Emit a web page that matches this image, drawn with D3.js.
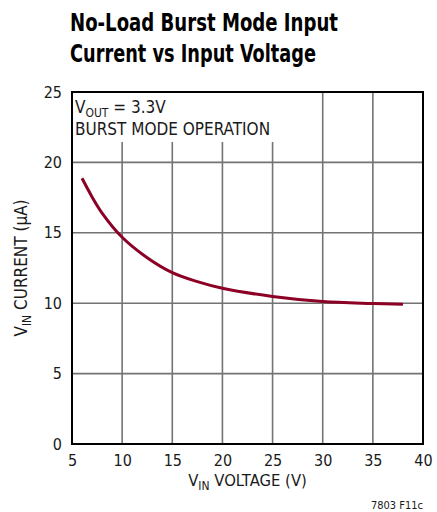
<!DOCTYPE html>
<html>
<head>
<meta charset="utf-8">
<script src="https://cdn.jsdelivr.net/npm/d3@7"></script>
<style>
  html, body { margin: 0; padding: 0; background: #fff; }
  svg { display: block; }
  text { font-family: "Liberation Sans Narrow", "DejaVu Sans Condensed", "Arial Narrow", sans-serif; fill: #1a1a1a; }
</style>
</head>
<body>
<svg id="chart" width="437" height="512"></svg>
<script>
// Input voltage (V) and no-load Burst Mode input current (µA)
const vin = [6, 7, 8, 10, 12.5, 15, 17.5, 20, 25, 30, 35, 38];
const current = [18.87, 17.55, 16.4, 14.68, 13.23, 12.17, 11.53, 11.06, 10.48, 10.12, 9.98, 9.92];

const xTicks = [5, 10, 15, 20, 25, 30, 35, 40];
const yTicks = [0, 5, 10, 15, 20, 25];
const titleLines = ["No-Load Burst Mode Input", "Current vs Input Voltage"];
const titleWidths = [268, 246];

const svg = d3.select("#chart");
const margin = { left: 72, right: 14, top: 92, bottom: 68 };
const W = 437, H = 512;

const x = d3.scaleLinear().domain([5, 40]).range([margin.left, W - margin.right]);
const y = d3.scaleLinear().domain([0, 25]).range([H - margin.bottom, margin.top]);

// Title (condensed bold)
svg.selectAll("text.title").data(titleLines).join("text")
  .attr("class", "title")
  .attr("x", 70)
  .attr("y", (d, i) => 31 + i * 31)
  .attr("font-size", 24)
  .attr("font-weight", "bold")
  .attr("textLength", (d, i) => titleWidths[i])
  .attr("lengthAdjust", "spacingAndGlyphs")
  .style("fill", "#000")
  .text(d => d);

// Grid: horizontal lines across the full plot width
const grid = svg.append("g").attr("stroke", "#737373").attr("stroke-width", 1.6);
grid.selectAll("line.h").data(yTicks.slice(1, -1)).join("line")
  .attr("class", "h")
  .attr("x1", x(5)).attr("x2", x(40))
  .attr("y1", d => y(d)).attr("y2", d => y(d));

// Vertical lines stop below the annotation block on the left side
const noteBottom = 142;
grid.selectAll("line.v").data(xTicks.slice(1, -1)).join("line")
  .attr("class", "v")
  .attr("x1", d => x(d)).attr("x2", d => x(d))
  .attr("y1", d => d <= 25 ? noteBottom : y(25))
  .attr("y2", y(0));

// Frame
svg.append("rect")
  .attr("x", x(5)).attr("y", y(25))
  .attr("width", x(40) - x(5)).attr("height", y(0) - y(25))
  .attr("fill", "none").attr("stroke", "#000").attr("stroke-width", 2);

// Axes (labels only, no tick marks)
const xAxis = svg.append("g")
  .attr("transform", `translate(0,${y(0)})`)
  .call(d3.axisBottom(x).tickValues(xTicks).tickSize(0).tickPadding(11).tickFormat(d3.format("d")));
xAxis.select(".domain").remove();
xAxis.selectAll("text").attr("font-size", 16).attr("font-family", null).attr("dy", "0.71em");

const yAxis = svg.append("g")
  .attr("transform", `translate(${x(5)},0)`)
  .call(d3.axisLeft(y).tickValues(yTicks).tickSize(0).tickPadding(10).tickFormat(d3.format("d")));
yAxis.select(".domain").remove();
yAxis.selectAll("text").attr("font-size", 16).attr("font-family", null);

// Curve
const line = d3.line()
  .x((d, i) => x(vin[i]))
  .y(d => y(d))
  .curve(d3.curveCatmullRom.alpha(0.5));
svg.append("path")
  .datum(current)
  .attr("d", line)
  .attr("fill", "none")
  .attr("stroke", "#8c0026")
  .attr("stroke-width", 3)
  .attr("stroke-linecap", "butt");

// Annotation
const note = svg.append("g").attr("font-size", 17);
const n1 = note.append("text").attr("x", 75).attr("y", 113);
n1.append("tspan").text("V");
n1.append("tspan").attr("font-size", 12).attr("dy", 4).text("OUT");
n1.append("tspan").attr("dy", -4).text(" = 3.3V");
note.append("text").attr("x", 75).attr("y", 135).text("BURST MODE OPERATION");

// X axis title
const xt = svg.append("text")
  .attr("x", (x(5) + x(40)) / 2).attr("y", 486)
  .attr("text-anchor", "middle").attr("font-size", 16.5);
xt.append("tspan").text("V");
xt.append("tspan").attr("font-size", 12).attr("dy", 4).text("IN");
xt.append("tspan").attr("dy", -4).text(" VOLTAGE (V)");

// Y axis title
const yt = svg.append("text")
  .attr("transform", `translate(27,${(y(0) + y(25)) / 2}) rotate(-90)`)
  .attr("text-anchor", "middle").attr("font-size", 17);
yt.append("tspan").text("V");
yt.append("tspan").attr("font-size", 12).attr("dy", 4).text("IN");
yt.append("tspan").attr("dy", -4).text(" CURRENT (µA)");

// Figure id
svg.append("text")
  .attr("x", 423).attr("y", 509)
  .attr("text-anchor", "end").attr("font-size", 11)
  .text("7803 F11c");
</script>
</body>
</html>
